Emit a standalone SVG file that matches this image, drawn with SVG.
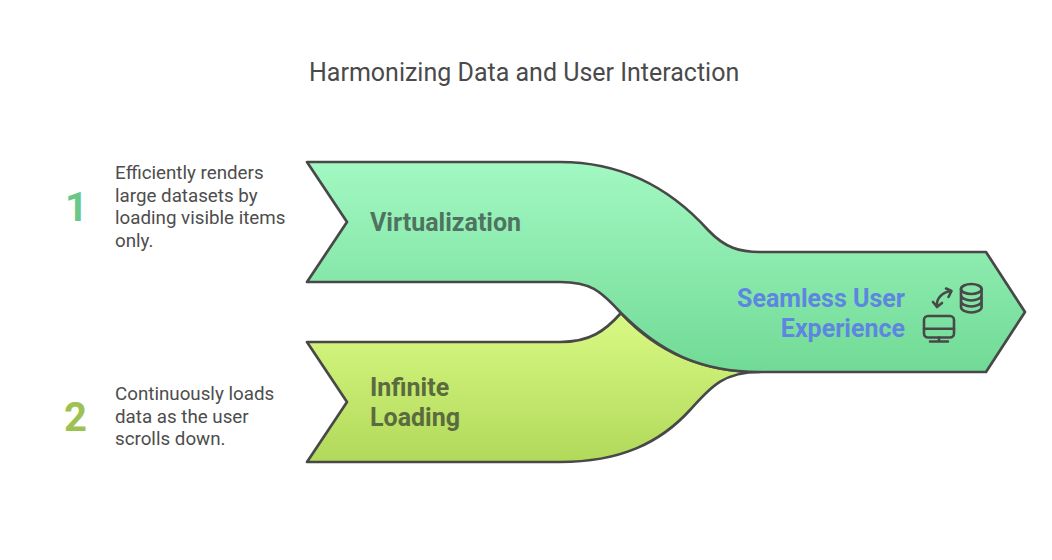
<svg xmlns="http://www.w3.org/2000/svg" width="1052" height="560" viewBox="0 0 1052 560">
<style>
text{font-family:Roboto,"Liberation Sans",sans-serif}
.title{font-size:25px;fill:#4a4a4a}
.desc{font-size:18.750px;fill:#4d4d4d}
.num{font-size:40px;font-weight:700}
.label{font-size:25px;font-weight:700}
.shape{stroke:#484848;stroke-width:2.700;stroke-linejoin:round}
.icon{fill:none;stroke:#484848;stroke-width:2.600;stroke-linecap:round;stroke-linejoin:round}
</style>
<defs>
<linearGradient id="gy" x1="0" y1="0" x2="0" y2="1"><stop offset="0" stop-color="#d9f984"/><stop offset="1" stop-color="#b1d95a"/></linearGradient>
<linearGradient id="gg" x1="0" y1="0" x2="0" y2="1"><stop offset="0" stop-color="#a2f8c2"/><stop offset="1" stop-color="#71da96"/></linearGradient>
</defs>
<rect width="1052" height="560" fill="#fff"/>
<text class="title" x="309" y="80.500">Harmonizing Data and User Interaction</text>
<g id="node-infinite-loading">
<path class="shape" fill="url(#gy)" d="M307 342H560C590 342 605 331 621 313C655 350 700 372 760 372C722 372 710 388 690 410C660 443 620 462 560 462H307L347 402Z"/>
<text class="label" fill="#5a6b3e"><tspan x="370" y="396">Infinite</tspan><tspan x="370" y="426">Loading</tspan></text>
</g>
<g id="node-virtualization">
<path class="shape" fill="url(#gg)" d="M307 162H560C625 162 672 190 708 230C725 248 740 252 760 252H986L1025 312L986 372H760C700 372 660 352 621 313C600 290 590 282 560 282H307L347 222Z"/>
<text class="label" x="370" y="231" fill="#4f7360">Virtualization</text>
</g>
<g id="node-seamless">
<text class="label" text-anchor="end" fill="#5e86e0"><tspan x="905" y="307">Seamless User</tspan><tspan x="905" y="337">Experience</tspan></text>
<g class="icon">
<ellipse cx="971.300" cy="289" rx="10.300" ry="5"/>
<path d="M961 289V307C961 310 966 312.500 971.300 312.500S981.600 310 981.600 307V289M961 295C961 298 966 300.500 971.300 300.500S981.600 298 981.600 295M961 301C961 304 966 306.500 971.300 306.500S981.600 304 981.600 301"/>
<rect x="924" y="316" width="30" height="21.500" rx="4"/>
<path d="M924 328.700H954M939 337.500V341.500M930 341.500H948"/>
<path d="M951 291C943 292 936 298 937 306M946 288.500L951.500 291L948.500 297M933 302L937 307L942 303"/>
</g>
</g>
<g id="item-1">
<text class="num" x="65" y="221" fill="#68c78a">1</text>
<text class="desc"><tspan x="115" y="179">Efficiently renders</tspan><tspan x="115" y="202">large datasets by</tspan><tspan x="115" y="224">loading visible items</tspan><tspan x="115" y="247">only.</tspan></text>
</g>
<g id="item-2">
<text class="num" x="64" y="431" fill="#9dc152">2</text>
<text class="desc"><tspan x="115" y="400">Continuously loads</tspan><tspan x="115" y="423">data as the user</tspan><tspan x="115" y="445">scrolls down.</tspan></text>
</g>
</svg>
